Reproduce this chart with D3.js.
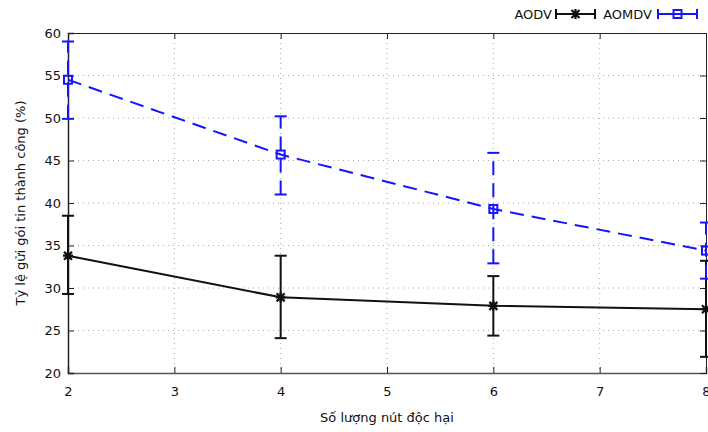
<!DOCTYPE html>
<html>
<head>
<meta charset="utf-8">
<script src="https://cdn.jsdelivr.net/npm/d3@7"></script>
<style>
  body { margin: 0; background: #fff; }
  text { font-family: "DejaVu Sans", sans-serif; font-size: 13px; fill: #111; }
</style>
</head>
<body>
<div id="graf"></div>
<script>
// Datos
nodos = [2, 4, 6, 8]
aodvMedia = [33.8, 28.9, 27.9, 27.5]
aodvMin   = [29.3, 24.1, 24.4, 21.9]
aodvMax   = [38.5, 33.8, 31.4, 33.2]
aomdvMedia = [54.5, 45.7, 39.3, 34.4]
aomdvMin   = [49.9, 41.0, 32.9, 31.1]
aomdvMax   = [59.0, 50.2, 45.9, 37.7]
xTicks = [2, 3, 4, 5, 6, 7, 8]
yTicks = [20, 25, 30, 35, 40, 45, 50, 55, 60]

ancho_total = 708
alto_total = 432
margins = { top: 33, left: 68, right: 2, bottom: 59 }
ancho = ancho_total - margins.left - margins.right
alto = alto_total - margins.top - margins.bottom

svg = d3.select('#graf').append('svg')
  .attr('width', ancho_total)
  .attr('height', alto_total)

g = svg.append('g')
  .attr('transform', `translate(${margins.left}, ${margins.top})`)

x = d3.scaleLinear().domain([2, 8]).range([0, ancho])
y = d3.scaleLinear().domain([20, 60]).range([alto, 0])

// Grilla punteada
g.selectAll('.gx').data(xTicks.slice(1, -1)).join('line')
  .attr('x1', d => x(d)).attr('x2', d => x(d))
  .attr('y1', 0).attr('y2', alto)
  .attr('stroke', '#aaa').attr('stroke-dasharray', '1,4')
g.selectAll('.gy').data(yTicks.slice(1, -1)).join('line')
  .attr('x1', 0).attr('x2', ancho)
  .attr('y1', d => y(d)).attr('y2', d => y(d))
  .attr('stroke', '#aaa').attr('stroke-dasharray', '1,4')

// Ejes
fmt = d3.format('d')
xAxisCall = d3.axisBottom(x).tickValues(xTicks).tickFormat(fmt).tickSize(-6).tickPadding(14)
yAxisCall = d3.axisLeft(y).tickValues(yTicks).tickFormat(fmt).tickSize(-6).tickPadding(7)
xAxis = g.append('g').attr('transform', `translate(0, ${alto})`).call(xAxisCall)
yAxis = g.append('g').call(yAxisCall)
g.append('g').call(d3.axisTop(x).tickValues(xTicks).tickSize(-6).tickFormat(''))
g.append('g').attr('transform', `translate(${ancho}, 0)`)
  .call(d3.axisRight(y).tickValues(yTicks).tickSize(-6).tickFormat(''))
g.selectAll('.domain').attr('stroke', '#222').attr('stroke-width', 1)
g.selectAll('.tick line').attr('stroke', '#222')
xAxis.select('.domain').attr('stroke', '#555').attr('stroke-width', 1.5)
yAxis.select('.domain').attr('stroke-width', 1.5)
g.selectAll('.tick text').style('font-family', '"DejaVu Sans", sans-serif').style('font-size', '13px').attr('fill', '#111')

// Titulos
svg.append('text')
  .attr('x', margins.left + ancho / 2)
  .attr('y', 422)
  .attr('text-anchor', 'middle')
  .text('Số lượng nút độc hại')
svg.append('text')
  .attr('transform', `translate(25, ${margins.top + alto / 2}) rotate(-90)`)
  .attr('text-anchor', 'middle')
  .text('Tỷ lệ gửi gói tin thành công (%)')

series = [
  { name: 'AODV', media: aodvMedia, min: aodvMin, max: aodvMax, color: '#111', dash: null, mark: 'star' },
  { name: 'AOMDV', media: aomdvMedia, min: aomdvMin, max: aomdvMax, color: '#1414ff', dash: '14,8', mark: 'square' }
]

lineaGen = d3.line().x(d => x(d[0])).y(d => y(d[1]))

function marca(sel, tipo, color) {
  if (tipo === 'star') {
    sel.append('path')
      .attr('d', 'M-5,0H5M0,-5V5M-4,-4L4,4M-4,4L4,-4')
      .attr('stroke', color).attr('stroke-width', 2.2).attr('fill', 'none')
  } else {
    sel.append('rect')
      .attr('x', -4).attr('y', -4).attr('width', 8).attr('height', 8)
      .attr('stroke', color).attr('stroke-width', 2).attr('fill', 'none')
  }
}

series.forEach(s => {
  pts = nodos.map((n, i) => [n, s.media[i]])
  g.append('path')
    .attr('d', lineaGen(pts))
    .attr('fill', 'none')
    .attr('stroke', s.color)
    .attr('stroke-width', 2)
    .attr('stroke-dasharray', s.dash)

  nodos.forEach((n, i) => {
    eb = g.append('g')
    eb.append('line')
      .attr('x1', x(n)).attr('x2', x(n))
      .attr('y1', y(s.min[i])).attr('y2', y(s.max[i]))
      .attr('stroke', s.color).attr('stroke-width', 2)
      .attr('stroke-dasharray', s.dash)
    ;[s.min[i], s.max[i]].forEach(v => {
      eb.append('line')
        .attr('x1', x(n) - 6).attr('x2', x(n) + 6)
        .attr('y1', y(v)).attr('y2', y(v))
        .attr('stroke', s.color).attr('stroke-width', 2)
    })
    m = g.append('g').attr('transform', `translate(${x(n)}, ${y(s.media[i])})`)
    marca(m, s.mark, s.color)
  })
})

// Leyenda
leyenda = [
  { name: 'AODV', tx: 552, lx: 556, color: '#111', mark: 'star' },
  { name: 'AOMDV', tx: 652, lx: 658, color: '#1414ff', mark: 'square' }
]
leyenda.forEach(l => {
  svg.append('text').attr('x', l.tx).attr('y', 19).attr('text-anchor', 'end').text(l.name)
  lg = svg.append('g').attr('transform', `translate(${l.lx}, 14)`)
  lg.append('line').attr('x1', 0).attr('x2', 39).attr('y1', 0).attr('y2', 0)
    .attr('stroke', l.color).attr('stroke-width', 2)
  lg.append('line').attr('x1', 0).attr('x2', 0).attr('y1', -5).attr('y2', 5)
    .attr('stroke', l.color).attr('stroke-width', 2)
  lg.append('line').attr('x1', 39).attr('x2', 39).attr('y1', -5).attr('y2', 5)
    .attr('stroke', l.color).attr('stroke-width', 2)
  m = lg.append('g').attr('transform', 'translate(19.5, 0)')
  marca(m, l.mark, l.color)
})
</script>
</body>
</html>
